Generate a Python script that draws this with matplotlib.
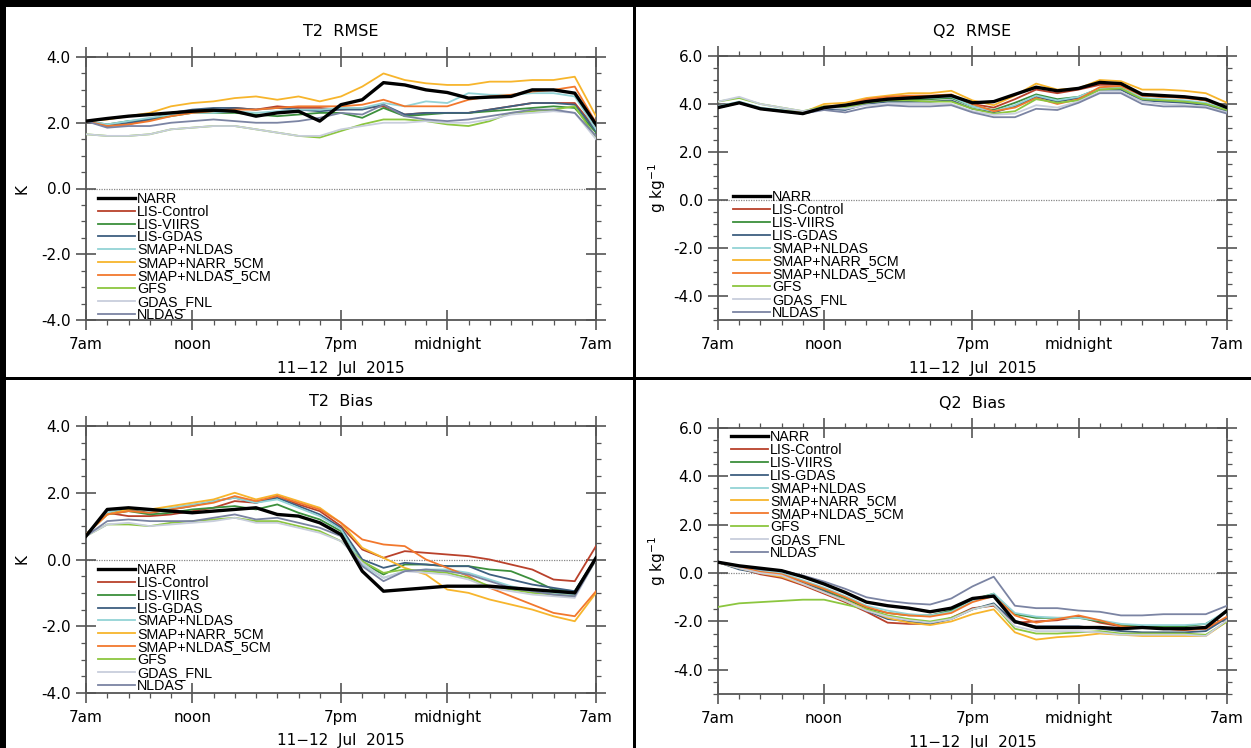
import matplotlib
matplotlib.use("Agg")
import matplotlib.pyplot as plt
from matplotlib.patches import Rectangle
from matplotlib.ticker import MultipleLocator, FormatStrFormatter

W, H = 1251, 748

hours = list(range(25))            # 7am day 1 .. 7am day 2
hour_ticks = [0, 5, 12, 17, 24]
hour_labels = ["7am", "noon", "7pm", "midnight", "7am"]

names = ["NARR", "LIS-Control", "LIS-VIIRS", "LIS-GDAS", "SMAP+NLDAS",
         "SMAP+NARR_5CM", "SMAP+NLDAS_5CM", "GFS", "GDAS_FNL", "NLDAS"]
colors = ["#000000", "#b9412b", "#3c8f3c", "#3e5f80", "#93d3d6",
          "#f7b52c", "#f2782d", "#8cc63f", "#c8cedc", "#7b84a3"]

# T2 RMSE (K)
t2_rmse = {
    "NARR":           [2.05, 2.13, 2.2, 2.25, 2.3, 2.35, 2.38, 2.35, 2.2, 2.3, 2.35, 2.05, 2.55, 2.7, 3.22, 3.15, 3.0, 2.92, 2.75, 2.78, 2.8, 3.0, 3.0, 2.9, 1.95],
    "LIS-Control":    [2.05, 1.9, 1.95, 2.1, 2.3, 2.35, 2.35, 2.45, 2.4, 2.5, 2.45, 2.45, 2.4, 2.45, 2.5, 2.25, 2.3, 2.3, 2.3, 2.4, 2.5, 2.6, 2.6, 2.6, 1.8],
    "LIS-VIIRS":      [2.05, 1.95, 2.05, 2.1, 2.2, 2.3, 2.3, 2.3, 2.25, 2.2, 2.25, 2.3, 2.3, 2.15, 2.45, 2.2, 2.25, 2.3, 2.3, 2.35, 2.4, 2.45, 2.5, 2.45, 1.7],
    "LIS-GDAS":       [2.05, 1.9, 2.0, 2.1, 2.3, 2.4, 2.45, 2.45, 2.4, 2.45, 2.4, 2.35, 2.4, 2.4, 2.55, 2.25, 2.3, 2.3, 2.3, 2.4, 2.5, 2.6, 2.6, 2.55, 1.75],
    "SMAP+NLDAS":     [2.05, 1.95, 2.05, 2.15, 2.25, 2.3, 2.3, 2.35, 2.3, 2.35, 2.4, 2.4, 2.45, 2.45, 2.6, 2.5, 2.65, 2.6, 2.9, 2.85, 2.85, 2.9, 2.9, 2.8, 1.8],
    "SMAP+NARR_5CM":  [2.05, 2.1, 2.2, 2.3, 2.5, 2.6, 2.65, 2.75, 2.8, 2.7, 2.8, 2.65, 2.8, 3.1, 3.5, 3.3, 3.2, 3.15, 3.15, 3.25, 3.25, 3.3, 3.3, 3.4, 2.2],
    "SMAP+NLDAS_5CM": [2.05, 1.9, 1.95, 2.05, 2.2, 2.3, 2.35, 2.4, 2.4, 2.45, 2.5, 2.5, 2.5, 2.55, 2.7, 2.5, 2.5, 2.5, 2.7, 2.8, 2.85, 2.95, 3.0, 3.1, 2.0],
    "GFS":            [1.65, 1.6, 1.6, 1.65, 1.8, 1.85, 1.9, 1.9, 1.8, 1.7, 1.6, 1.55, 1.75, 1.95, 2.1, 2.1, 2.05, 1.95, 1.9, 2.05, 2.3, 2.35, 2.4, 2.5, 1.55],
    "GDAS_FNL":       [1.65, 1.6, 1.6, 1.65, 1.8, 1.85, 1.9, 1.9, 1.8, 1.7, 1.6, 1.6, 1.8, 1.9, 2.0, 2.0, 2.05, 2.0, 2.0, 2.1, 2.25, 2.3, 2.35, 2.3, 1.5],
    "NLDAS":          [2.05, 1.85, 1.9, 1.9, 2.0, 2.05, 2.1, 2.05, 2.0, 2.0, 2.05, 2.15, 2.3, 2.25, 2.55, 2.2, 2.1, 2.05, 2.1, 2.2, 2.3, 2.4, 2.4, 2.3, 1.6],
}

# Q2 RMSE (g/kg)
q2_rmse = {
    "NARR":           [3.85, 4.05, 3.8, 3.7, 3.6, 3.85, 3.95, 4.1, 4.2, 4.25, 4.3, 4.35, 4.05, 4.1, 4.4, 4.7, 4.55, 4.65, 4.9, 4.85, 4.4, 4.35, 4.3, 4.2, 3.85],
    "LIS-Control":    [3.85, 4.05, 3.8, 3.7, 3.6, 3.85, 3.9, 4.15, 4.3, 4.3, 4.25, 4.3, 4.0, 3.85, 4.2, 4.6, 4.45, 4.6, 4.8, 4.8, 4.35, 4.3, 4.3, 4.15, 3.85],
    "LIS-VIIRS":      [3.85, 4.05, 3.8, 3.7, 3.65, 3.85, 3.8, 4.05, 4.15, 4.2, 4.2, 4.25, 3.9, 3.75, 4.05, 4.4, 4.2, 4.3, 4.65, 4.65, 4.2, 4.15, 4.1, 4.0, 3.75],
    "LIS-GDAS":       [3.85, 4.05, 3.8, 3.7, 3.6, 3.8, 3.75, 4.0, 4.1, 4.1, 4.1, 4.15, 3.8, 3.65, 3.9, 4.3, 4.1, 4.25, 4.6, 4.6, 4.15, 4.1, 4.05, 3.95, 3.7],
    "SMAP+NLDAS":     [3.9, 4.1, 3.85, 3.75, 3.65, 3.9, 3.85, 4.1, 4.2, 4.25, 4.25, 4.3, 3.9, 3.7, 3.95, 4.35, 4.15, 4.3, 4.65, 4.7, 4.25, 4.2, 4.15, 4.05, 3.8],
    "SMAP+NARR_5CM":  [3.85, 4.05, 3.8, 3.7, 3.65, 4.0, 4.05, 4.25, 4.35, 4.45, 4.45, 4.55, 4.15, 3.95, 4.35, 4.85, 4.6, 4.65, 5.0, 4.95, 4.6, 4.6, 4.55, 4.45, 4.05],
    "SMAP+NLDAS_5CM": [3.85, 4.05, 3.8, 3.7, 3.6, 3.9, 3.95, 4.2, 4.3, 4.35, 4.35, 4.4, 4.0, 3.7, 3.85, 4.25, 4.0, 4.2, 4.7, 4.75, 4.35, 4.3, 4.25, 4.15, 3.85],
    "GFS":            [4.1, 4.25, 4.0, 3.85, 3.7, 3.9, 3.85, 4.05, 4.15, 4.15, 4.1, 4.1, 3.8, 3.6, 3.7, 4.2, 4.05, 4.15, 4.6, 4.65, 4.2, 4.15, 4.1, 4.0, 3.75],
    "GDAS_FNL":       [4.1, 4.3, 4.0, 3.85, 3.7, 3.85, 3.8, 3.95, 4.0, 4.0, 4.0, 4.0, 3.7, 3.55, 3.6, 3.95, 3.85, 4.1, 4.5, 4.5, 4.1, 4.0, 3.95, 3.9, 3.65],
    "NLDAS":          [3.85, 4.05, 3.8, 3.7, 3.6, 3.75, 3.65, 3.85, 3.95, 3.9, 3.9, 3.95, 3.65, 3.45, 3.45, 3.8, 3.75, 4.05, 4.45, 4.45, 4.0, 3.9, 3.9, 3.85, 3.6],
}

# T2 bias (K)
t2_bias = {
    "NARR":           [0.7, 1.5, 1.55, 1.5, 1.45, 1.4, 1.45, 1.5, 1.55, 1.35, 1.3, 1.1, 0.75, -0.35, -0.95, -0.9, -0.85, -0.8, -0.8, -0.8, -0.85, -0.9, -0.95, -1.0, 0.05],
    "LIS-Control":    [0.75, 1.4, 1.3, 1.3, 1.35, 1.45, 1.55, 1.75, 1.7, 1.9, 1.65, 1.45, 1.0, 0.3, 0.05, 0.25, 0.2, 0.15, 0.1, 0.0, -0.15, -0.3, -0.6, -0.65, 0.4],
    "LIS-VIIRS":      [0.75, 1.35, 1.45, 1.35, 1.4, 1.5, 1.55, 1.6, 1.5, 1.65, 1.4, 1.2, 0.85, -0.1, -0.45, -0.15, -0.15, -0.2, -0.2, -0.3, -0.35, -0.6, -0.9, -0.95, 0.05],
    "LIS-GDAS":       [0.75, 1.4, 1.5, 1.4, 1.5, 1.6, 1.75, 1.85, 1.7, 1.85, 1.6, 1.35, 0.95, 0.0, -0.25, -0.1, -0.15, -0.2, -0.2, -0.45, -0.6, -0.75, -0.85, -0.95, 0.05],
    "SMAP+NLDAS":     [0.75, 1.4, 1.55, 1.45, 1.55, 1.65, 1.75, 1.85, 1.7, 1.8, 1.55, 1.3, 0.9, -0.15, -0.55, -0.35, -0.3, -0.3, -0.4, -0.6, -0.8, -0.95, -1.0, -1.05, 0.05],
    "SMAP+NARR_5CM":  [0.75, 1.35, 1.5, 1.5, 1.6, 1.7, 1.8, 2.0, 1.8, 1.95, 1.75, 1.55, 1.1, 0.35, 0.05, -0.25, -0.45, -0.9, -1.0, -1.2, -1.35, -1.5, -1.7, -1.85, -1.0],
    "SMAP+NLDAS_5CM": [0.75, 1.35, 1.45, 1.4, 1.5, 1.6, 1.7, 1.9, 1.75, 1.9, 1.7, 1.5, 1.1, 0.6, 0.45, 0.4, 0.0, -0.25, -0.5, -0.85, -1.1, -1.35, -1.6, -1.7, -0.95],
    "GFS":            [0.7, 1.05, 1.05, 1.0, 1.1, 1.15, 1.2, 1.25, 1.15, 1.15, 1.0, 0.85, 0.55, -0.05, -0.4, -0.3, -0.35, -0.4, -0.55, -0.8, -0.9, -1.0, -1.05, -1.1, 0.0],
    "GDAS_FNL":       [0.7, 1.05, 1.1, 1.0, 1.05, 1.1, 1.15, 1.25, 1.1, 1.1, 0.95, 0.8, 0.55, -0.1, -0.55, -0.35, -0.4, -0.45, -0.6, -0.85, -0.95, -1.05, -1.1, -1.15, 0.0],
    "NLDAS":          [0.7, 1.15, 1.2, 1.15, 1.15, 1.15, 1.25, 1.35, 1.2, 1.25, 1.1, 0.95, 0.7, -0.2, -0.65, -0.35, -0.3, -0.35, -0.45, -0.65, -0.85, -0.95, -1.05, -1.1, 0.0],
}

# Q2 bias (g/kg)
q2_bias = {
    "NARR":           [0.45, 0.3, 0.2, 0.1, -0.15, -0.45, -0.8, -1.2, -1.35, -1.45, -1.6, -1.45, -1.05, -0.95, -2.0, -2.25, -2.25, -2.25, -2.25, -2.3, -2.25, -2.3, -2.3, -2.25, -1.55],
    "LIS-Control":    [0.45, 0.2, -0.05, -0.2, -0.5, -0.85, -1.2, -1.6, -2.05, -2.1, -2.1, -1.85, -1.45, -1.35, -2.05, -2.0, -1.95, -1.8, -2.05, -2.2, -2.25, -2.3, -2.35, -2.3, -1.85],
    "LIS-VIIRS":      [0.45, 0.2, 0.05, -0.05, -0.35, -0.7, -1.05, -1.45, -1.65, -1.75, -1.75, -1.55, -1.1, -0.85, -1.7, -1.85, -1.85, -1.85, -2.0, -2.15, -2.2, -2.2, -2.2, -2.1, -1.6],
    "LIS-GDAS":       [0.45, 0.15, 0.0, -0.1, -0.4, -0.75, -1.15, -1.55, -1.9, -2.0, -2.1, -1.9, -1.5, -1.25, -2.05, -2.2, -2.2, -2.2, -2.3, -2.4, -2.45, -2.45, -2.45, -2.4, -1.85],
    "SMAP+NLDAS":     [0.45, 0.25, 0.1, 0.0, -0.3, -0.6, -0.95, -1.35, -1.55, -1.7, -1.75, -1.6, -1.15, -0.85, -1.65, -1.8, -1.85, -1.85, -1.95, -2.1, -2.15, -2.15, -2.15, -2.1, -1.55],
    "SMAP+NARR_5CM":  [0.45, 0.2, 0.0, -0.15, -0.45, -0.8, -1.15, -1.5, -1.85, -2.05, -2.15, -2.0, -1.7, -1.5, -2.45, -2.75, -2.65, -2.6, -2.5, -2.55, -2.6, -2.6, -2.6, -2.6, -2.0],
    "SMAP+NLDAS_5CM": [0.45, 0.25, 0.05, -0.05, -0.35, -0.65, -1.0, -1.4, -1.65, -1.75, -1.8, -1.65, -1.2, -0.95, -1.75, -2.05, -1.9, -1.75, -1.95, -2.2, -2.25, -2.3, -2.35, -2.3, -1.8],
    "GFS":            [-1.4, -1.25, -1.2, -1.15, -1.1, -1.1, -1.3, -1.5, -1.75, -1.9, -2.0, -1.85, -1.5, -1.3, -2.3, -2.5, -2.5, -2.45, -2.4, -2.5, -2.5, -2.5, -2.5, -2.55, -2.0],
    "GDAS_FNL":       [0.45, 0.2, 0.0, -0.1, -0.45, -0.8, -1.15, -1.55, -1.8, -1.95, -2.05, -1.9, -1.5, -1.3, -2.2, -2.4, -2.4, -2.4, -2.45, -2.55, -2.55, -2.55, -2.55, -2.6, -1.95],
    "NLDAS":          [0.45, 0.3, 0.15, 0.1, -0.1, -0.35, -0.65, -1.0, -1.15, -1.25, -1.3, -1.05, -0.55, -0.15, -1.35, -1.45, -1.45, -1.55, -1.6, -1.75, -1.75, -1.7, -1.7, -1.7, -1.35],
}

# pixel layout of the four white panels and their axes (left, top, right, bottom)
panels = [(6, 7, 633, 377), (636, 7, 1251, 377), (6, 380, 633, 748), (636, 380, 1251, 748)]
axes_px = [(86, 57, 596, 320), (718, 56, 1227, 320), (86, 426, 596, 693), (718, 428, 1227, 694)]
titles = ["T2  RMSE", "Q2  RMSE", "T2  Bias", "Q2  Bias"]
datasets = [t2_rmse, q2_rmse, t2_bias, q2_bias]
ylims = [(-4, 4), (-5, 6), (-4, 4), (-5, 6)]
ylabels = ["K", "g kg$^{-1}$", "K", "g kg$^{-1}$"]
legend_anchor = [(0.0235, 0.487), (0.029, 0.492), (0.0235, 0.487), (0.0255, 0.992)]

plt.rcParams["font.family"] = ["DejaVu Sans"]

fig = plt.figure(figsize=(W / 100, H / 100), dpi=100, facecolor="black")

def fx(x):
    return x / W

def fy(y):
    return 1 - y / H

for (l, t, r, b) in panels:
    fig.patches.append(Rectangle((fx(l), fy(b)), fx(r - l), (b - t) / H,
                                 transform=fig.transFigure, facecolor="white",
                                 edgecolor="none", zorder=-5))

SPINE = "#555555"
for i in range(4):
    l, t, r, b = axes_px[i]
    ax = fig.add_axes([fx(l), fy(b), fx(r - l), (b - t) / H])
    ax.set_zorder(2)
    ax.set_facecolor("white")
    data = datasets[i]
    for name, col in zip(names, colors):
        if name == "NARR":
            ax.plot(hours, data[name], color=col, lw=2.4, label=name, zorder=5)
        else:
            ax.plot(hours, data[name], color=col, lw=1.3, label=name, zorder=3)
    ax.axhline(0, color="#888888", lw=0.9, ls=(0, (1, 1)), zorder=1)

    ax.set_xlim(0, 24)
    ax.set_ylim(*ylims[i])
    ax.set_xticks(hour_ticks)
    ax.set_xticklabels(hour_labels)
    ax.xaxis.set_minor_locator(MultipleLocator(1))
    ax.yaxis.set_major_locator(MultipleLocator(2))
    ax.yaxis.set_minor_locator(MultipleLocator(0.5))
    ax.yaxis.set_major_formatter(FormatStrFormatter("%.1f"))
    ax.tick_params(which="major", direction="inout", length=14, width=1.2,
                   color=SPINE, labelsize=11, top=True, right=True)
    ax.tick_params(axis="x", which="major", pad=5.5)
    ax.tick_params(axis="y", which="major", pad=4)
    ax.tick_params(which="minor", direction="out", length=3.5, width=0.9,
                   color=SPINE, top=True, right=True)
    for s in ax.spines.values():
        s.set_color(SPINE)
        s.set_linewidth(1.3)

    # title, x label, y label
    cx = (l + r) / 2
    fig.text(fx(cx), fy(t - 25), titles[i], ha="center", va="center", fontsize=11.5)
    fig.text(fx(cx), fy(b + 48), "11\u221212  Jul  2015", ha="center", va="center", fontsize=11)
    ylx = l - 64 if i % 2 == 0 else l - 61
    fig.text(fx(ylx), fy((t + b) / 2), ylabels[i], ha="center", va="center",
             rotation=90, fontsize=11)

    handles, labels = ax.get_legend_handles_labels()
    ax.legend(handles, labels, loc="upper left", bbox_to_anchor=legend_anchor[i],
              frameon=False, borderpad=0, borderaxespad=0, handlelength=2.6,
              handletextpad=0.15, labelspacing=-0.08,
              prop={"family": ["Liberation Sans", "DejaVu Sans"], "size": 10.3})

fig.savefig("out.png", dpi=100, facecolor="black")
